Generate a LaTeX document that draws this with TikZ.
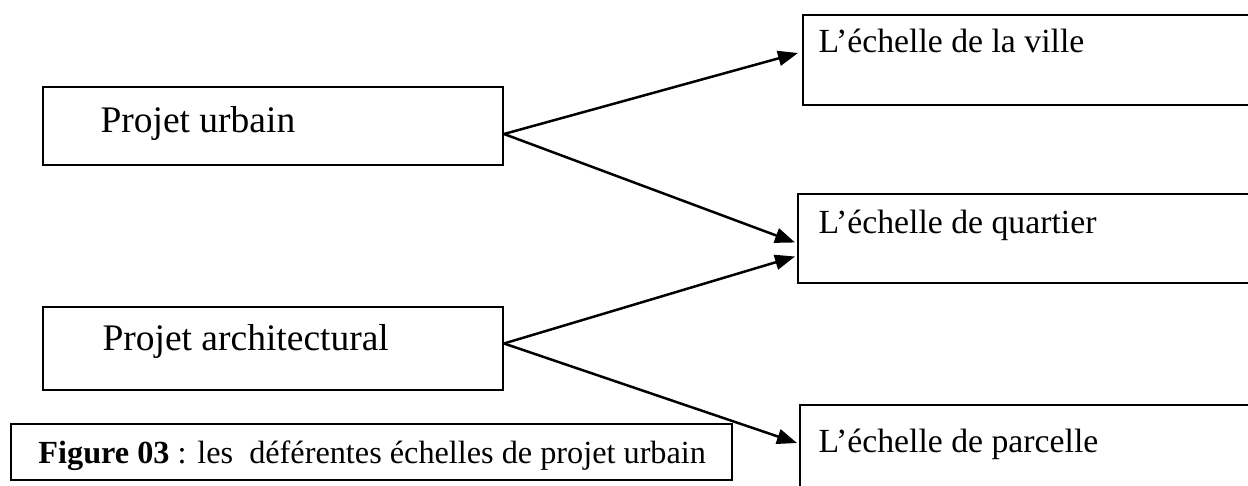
\documentclass[tikz,border=0pt]{standalone}
\usepackage{fontspec}
\setmainfont{Liberation Serif}
\usetikzlibrary{arrows.meta,calc,positioning}

\begin{document}
\begin{tikzpicture}[x=0.4pt,y=-0.4pt]
		\tikzstyle{every node}=[font=\fontsize{13.5}{16}\selectfont]
		\tikzstyle{box}=[draw, line width=0.8pt, rectangle, inner sep=0pt, anchor=north west]
		\tikzstyle{txt}=[inner sep=0pt, anchor=base west]
		\tikzstyle{arr}=[line width=1pt, -{Triangle[length=8pt,width=6pt]}]
		\clip (0,0) rectangle (1248,486);
		% left boxes
		\node [box, minimum width=184pt, minimum height=31.2pt] (urbain) at (42,86) {};
		\node [box, minimum width=184pt, minimum height=33.2pt] (archi) at (42,306) {};
		% right boxes
		\node [box, minimum width=184pt, minimum height=36pt] (ville) at (802,14) {};
		\node [box, minimum width=184pt, minimum height=35.6pt] (quartier) at (797,193) {};
		\node [box, minimum width=184pt, minimum height=40pt] (parcelle) at (799,404) {};
		% caption box
		\node [box, minimum width=288.4pt, minimum height=22.4pt] (legende) at (10,423) {};
		% texts
		\node [txt, font=\fontsize{15}{18}\selectfont] (urbaintxt) at (100,133) {Projet urbain};
		\node [txt, font=\fontsize{15}{18}\selectfont] (architxt) at (102,351) {Projet architectural};
		\node [txt] (villetxt) at (818,53) {L’échelle de la ville};
		\node [txt] (quartiertxt) at (818,233) {L’échelle de quartier};
		\node [txt] (parcelletxt) at (818,452) {L’échelle de parcelle};
		\node [txt, font=\fontsize{12.9}{15}\selectfont] (legendetxt) at (38,463) {\textbf{Figure 03} : les~ déférentes échelles de projet urbain};
		% arrows
		\draw [arr] ($(urbain.east)+(0,8)$) -- ($(ville.west)+(-4,-7)$);
		\draw [arr] ($(urbain.east)+(0,8)$) -- ($(quartier.west)+(-2,4)$);
		\draw [arr] ($(archi.east)+(0,-5)$) -- ($(quartier.west)+(-2,18)$);
		\draw [arr] ($(archi.east)+(0,-5)$) -- ($(parcelle.west)+(-2,-12)$);
	\end{tikzpicture}
\end{document}
